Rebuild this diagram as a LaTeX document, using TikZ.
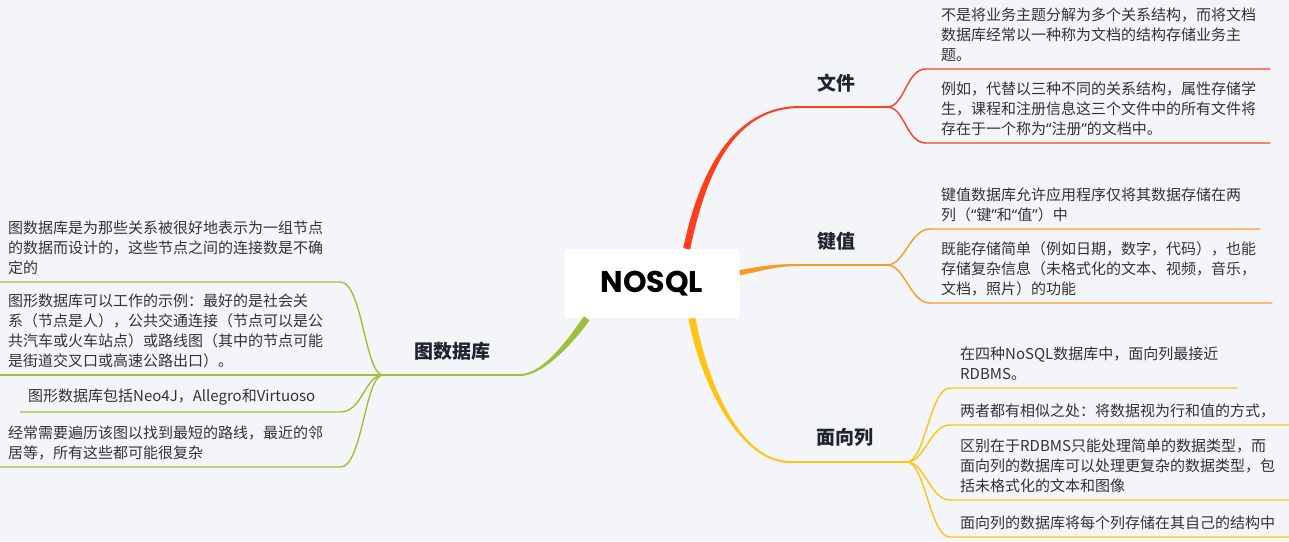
\documentclass[tikz,border=0pt]{standalone}
\usepackage{fontspec}
\newfontfamily\cjk{Noto Sans CJK SC}
\newfontfamily\quotefont{Noto Sans}
\newfontfamily\rootfont{Poppins}
\usetikzlibrary{calc,positioning}
\definecolor{MapBg}{HTML}{F4F5F8}
\definecolor{DocRed}{HTML}{FF3D1F}
\definecolor{KvOrange}{HTML}{F99B22}
\definecolor{ColYellow}{HTML}{FFC414}
\definecolor{GraphGreen}{HTML}{9CC13B}
\definecolor{LeafText}{HTML}{333333}
\definecolor{TopicText}{HTML}{1E2430}
\newcommand\openq{{\quotefont “}}
\newcommand\closeq{{\quotefont ”}}
\tikzset{
  root/.style={fill=white, rounded corners=3pt, minimum width=175pt, minimum height=69pt,
               font=\rootfont\bfseries\fontsize{30}{36}\selectfont, text=black},
  topic/.style={font=\cjk\bfseries\fontsize{19}{22}\selectfont, text=TopicText},
  leaf/.style={anchor=south west, inner xsep=#1, inner ysep=7pt, align=left,
               font=\cjk\fontsize{15}{20}\selectfont, text=LeafText},
  trunk/.style={line width=2pt},
  twig/.style={line width=1.4pt}
}
% tapered main branch: colour, four curve points, half width at the start
\newcommand\taperline[6]{%
  \fill[#1] ($(#2)!#6!90:(#3)$) .. controls ($(#3)!#6!-90:(#2)$) and ($(#4)!1pt!90:(#5)$) .. ($(#5)!1pt!-90:(#4)$)
    -- ($(#5)!1pt!90:(#4)$) .. controls ($(#4)!1pt!-90:(#5)$) and ($(#3)!#6!90:(#2)$) .. ($(#2)!#6!-90:(#3)$) -- cycle;}
\begin{document}
\begin{tikzpicture}[x=1pt, y=-1pt]
\fill[MapBg] (0,0) rectangle (1289,541);
\useasboundingbox (0,0) rectangle (1289,541);
\node[root] (root) at (652,283.5) {NOSQL};
\node[topic] (doc) at (836,83) {文件};
\node[topic] (kv) at (836,241) {键值};
\node[topic] (col) at (845,437) {面向列};
\node[topic] (graph) at (452,351) {图数据库};
% bends and forks
\coordinate (docbend) at (800,107);
\coordinate (docfork) at (887,107);
\coordinate (kvbend) at (800,265);
\coordinate (kvfork) at (887,265);
\coordinate (colbend) at (790,462);
\coordinate (colfork) at (907,462);
\coordinate (graphbend) at (520,375);
\coordinate (graphfork) at (383,375);
\coordinate (docc1) at (705,160);
\coordinate (docc2) at (740,107);
\coordinate (kvc1) at (765,268);
\coordinate (kvc2) at (775,265);
\coordinate (colc1) at (704,383);
\coordinate (colc2) at (740,462);
\coordinate (graphc1) at (575,335);
\coordinate (graphc2) at (545,375);
% leaves
\node[leaf=15pt, text width=314pt] (d1) at (926,69) {不是将业务主题分解为多个关系结构，而将文档\\数据库经常以一种称为文档的结构存储业务主\\题。};
\node[leaf=15pt, text width=314pt] (d2) at (926,143) {例如，代替以三种不同的关系结构，属性存储学\\生，课程和注册信息这三个文件中的所有文件将\\存在于一个称为\openq 注册\closeq 的文档中。};
\node[leaf=11pt, text width=308pt] (k1) at (930,229) {键值数据库允许应用程序仅将其数据存储在两\\列（\openq 键\closeq 和\openq 值\closeq ）中};
\node[leaf=11pt, text width=320pt] (k2) at (930,303) {既能存储简单（例如日期，数字，代码），也能\\存储复杂信息（未格式化的文本、视频，音乐，\\文档，照片）的功能};
\node[leaf=10pt, text width=267pt] (c1) at (950,388) {在四种NoSQL数据库中，面向列最接近\\RDBMS。};
\node[leaf=10pt, text width=322pt] (c2) at (950,425) {两者都有相似之处：将数据视为行和值的方式，};
\node[leaf=10pt, text width=322pt] (c3) at (950,500) {区别在于RDBMS只能处理简单的数据类型，而\\面向列的数据库可以处理更复杂的数据类型，包\\括未格式化的文本和图像};
\node[leaf=10pt, text width=322pt] (c4) at (950,537) {面向列的数据库将每个列存储在其自己的结构中};
\node[leaf=8pt, text width=324pt] (g1) at (0,282) {图数据库是为那些关系被很好地表示为一组节点\\的数据而设计的，这些节点之间的连接数是不确\\定的};
\node[leaf=8pt, text width=329pt] (g2) at (0,375) {图形数据库可以工作的示例：最好的是社会关\\系（节点是人），公共交通连接（节点可以是公\\共汽车或火车站点）或路线图（其中的节点可能\\是街道交叉口或高速公路出口）。};
\node[leaf=8pt, text width=304pt] (g3) at (20,412) {图形数据库包括Neo4J，Allegro和Virtuoso};
\node[leaf=8pt, text width=324pt] (g4) at (0,467) {经常需要遍历该图以找到最短的路线，最近的邻\\居等，所有这些都可能很复杂};
% main branches
\taperline{DocRed}{root.45}{docc1}{docc2}{docbend}{3.5pt}
\draw[trunk, DocRed] (docbend) -- (docfork);
\taperline{KvOrange}{root.7}{kvc1}{kvc2}{kvbend}{2.5pt}
\draw[trunk, KvOrange] (kvbend) -- (kvfork);
\taperline{ColYellow}{root.-41}{colc1}{colc2}{colbend}{3.5pt}
\draw[trunk, ColYellow] (colbend) -- (colfork);
\taperline{GraphGreen}{root.208}{graphc1}{graphc2}{graphbend}{3.5pt}
\draw[trunk, GraphGreen] (graphbend) -- (graphfork);
% twigs
\foreach \leaf in {d1,d2}
  \draw[twig, DocRed] (docfork) .. controls +(18,0) and +(-20,0) .. (\leaf.south west) -- (\leaf.south east);
\foreach \leaf in {k1,k2}
  \draw[twig, KvOrange] (kvfork) .. controls +(18,0) and +(-20,0) .. (\leaf.south west) -- (\leaf.south east);
\foreach \leaf in {c1,c2,c3,c4}
  \draw[twig, ColYellow] (colfork) .. controls +(18,0) and +(-20,0) .. (\leaf.south west) -- (\leaf.south east);
\foreach \leaf in {g1,g2,g3,g4}
  \draw[twig, GraphGreen] (\leaf.south west) -- (\leaf.south east) .. controls +(22,0) and +(-18,0) .. (graphfork);
\end{tikzpicture}
\end{document}
